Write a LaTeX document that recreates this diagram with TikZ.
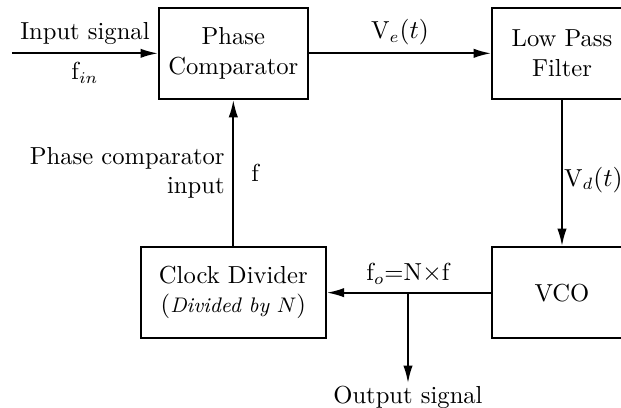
\documentclass[tikz,border=0pt]{standalone}
\usepackage{amsmath}
\usetikzlibrary{positioning, arrows.meta}

\begin{document}
\begin{tikzpicture}[
  block/.style={rectangle, draw, thick, minimum height=1.37cm, align=center},
  sig/.style={thick, -{Latex[length=2.6mm, width=1.4mm]}},
  font=\fontsize{10.5}{12.5}\selectfont]

\useasboundingbox (0,0) rectangle (9.315,6.12);
\clip (0,0) rectangle (9.315,6.12);

\node[block, minimum width=2.235cm] (PC) at (3.5,5.32) {Phase\\Comparator};
\node[block, minimum width=2.1cm] (LPF) at (8.43,5.32) {Low Pass\\Filter};
\node[block, minimum width=2.1cm] (VCO) at (8.43,1.73) {VCO};
\node[block, minimum width=2.775cm] (CD) at (3.5,1.73) {Clock Divider\\(\textit{\small Divided by $N$})};

\coordinate (in) at (0.18,5.32);
\coordinate (br) at (6.12,1.73);
\coordinate (out) at (6.12,0.375);

\draw[sig] (in) -- node[above] (lin) {Input signal} node[below] (lfin) {f$_{in}$} (PC);
\draw[sig] (PC) -- node[above] (lve) {V$_e(t)$} (LPF);
\draw[sig] (LPF) -- node[right, inner sep=0.5pt, yshift=-0.1cm] (lvd) {V$_d(t)$} (VCO);
\draw[sig] (VCO) -- (CD);
\node[above] (lfo) at (br) {f$_o$=N$\times$f};
\draw[sig] (br) -- (out);
\node[below, inner sep=1pt] (lout) at (out) {Output signal};
\draw[sig] (CD) -- node[left, align=right] (lpci) {Phase comparator\\input}
  node[right, xshift=4pt] (lf) {f} (PC);

\end{tikzpicture}
\end{document}
